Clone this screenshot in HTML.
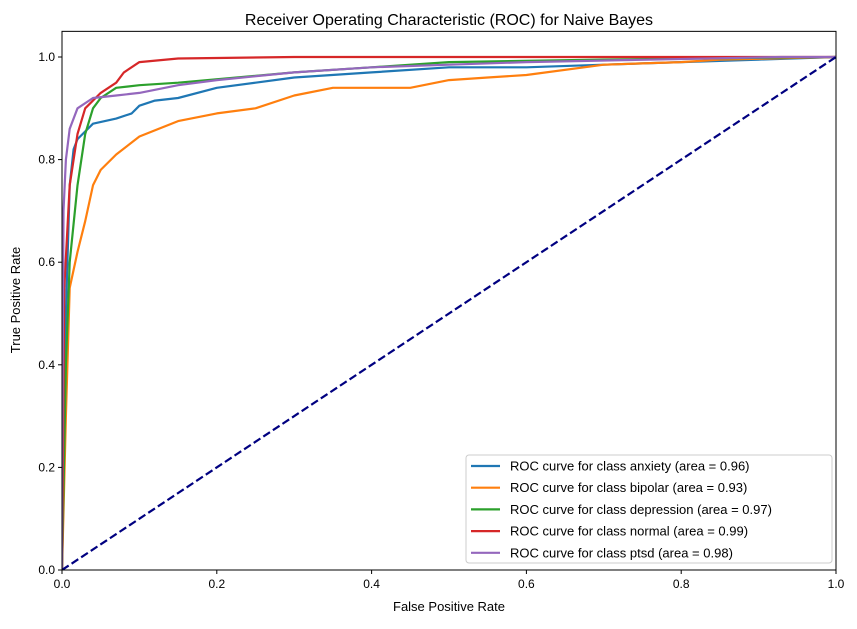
<!DOCTYPE html>
<html><head><meta charset="utf-8"><style>
body{margin:0;background:#fff}
svg{font-family:"Liberation Sans","DejaVu Sans",sans-serif}
</style></head><body>
<svg id="chart" width="857" height="624" viewBox="0 0 857 624">
<text x="449" y="25" text-anchor="middle" font-size="16">Receiver Operating Characteristic (ROC) for Naive Bayes</text>
<g id="ticks"></g>
<g id="series" clip-path="url(#clip)"></g>
<clipPath id="clip"><rect x="62" y="31" width="774" height="539"/></clipPath>
<rect x="62" y="31.35" width="774" height="538.65" fill="none" stroke="#000" stroke-width="1"/>
<text x="449" y="611" text-anchor="middle" font-size="13">False Positive Rate</text>
<text x="20" y="300" text-anchor="middle" font-size="13" transform="rotate(-90 20 300)">True Positive Rate</text>
<g id="legend"></g>
</svg>
<script>
const xTicks=[0,0.2,0.4,0.6,0.8,1.0];
const yTicks=[0,0.2,0.4,0.6,0.8,1.0];
const seriesNames=["anxiety","bipolar","depression","normal","ptsd"];
const seriesAreas=["0.96","0.93","0.97","0.99","0.98"];
const seriesColors=["#1f77b4","#ff7f0e","#2ca02c","#d62728","#9467bd"];
const anxFpr=[0,0.005,0.01,0.015,0.02,0.04,0.07,0.09,0.1,0.12,0.15,0.2,0.25,0.3,0.4,0.5,0.6,0.7,0.8,0.9,1];
const anxTpr=[0,0.5,0.75,0.82,0.84,0.87,0.88,0.89,0.905,0.915,0.92,0.94,0.95,0.96,0.97,0.98,0.98,0.985,0.99,0.995,1];
const bipFpr=[0,0.005,0.01,0.02,0.03,0.04,0.05,0.07,0.1,0.15,0.2,0.25,0.3,0.35,0.45,0.5,0.55,0.6,0.7,0.8,0.85,1];
const bipTpr=[0,0.3,0.55,0.62,0.68,0.75,0.78,0.81,0.845,0.875,0.89,0.9,0.925,0.94,0.94,0.955,0.96,0.965,0.985,0.99,0.995,1];
const depFpr=[0,0.005,0.01,0.02,0.03,0.04,0.05,0.07,0.1,0.15,0.3,0.4,0.5,0.7,1];
const depTpr=[0,0.4,0.6,0.75,0.85,0.9,0.92,0.94,0.945,0.95,0.97,0.98,0.99,0.995,1];
const norFpr=[0,0.003,0.01,0.02,0.03,0.05,0.07,0.08,0.1,0.15,0.3,1];
const norTpr=[0,0.55,0.75,0.85,0.9,0.93,0.95,0.97,0.99,0.997,1,1];
const ptsFpr=[0,0,0.002,0.005,0.01,0.02,0.04,0.07,0.1,0.15,0.2,0.3,0.4,0.5,0.6,0.93,1];
const ptsTpr=[0,0.15,0.7,0.8,0.86,0.9,0.92,0.925,0.93,0.945,0.955,0.97,0.98,0.985,0.99,1,1];
const chanceX=[0,1];
const chanceY=[0,1];

const X0=62,X1=836,Y0=570,YTOP=31.35,YMAX=1.05;
const sx=v=>X0+v*(X1-X0);
const sy=v=>Y0-v/YMAX*(Y0-YTOP);
const NS="http://www.w3.org/2000/svg";
function mk(tag,attrs,parent){const e=document.createElementNS(NS,tag);for(const k in attrs)e.setAttribute(k,attrs[k]);parent.appendChild(e);return e;}
const tg=document.getElementById('ticks');
xTicks.forEach(t=>{
  const l=mk('line',{x1:sx(t),x2:sx(t),y1:Y0,y2:Y0+4,stroke:'#000'},tg);
  
  
  const tx=mk('text',{x:sx(t),y:Y0+18,'text-anchor':'middle','font-size':12},tg);
  tx.textContent=t.toFixed(1);
  
  
});
yTicks.forEach(t=>{
  const l=mk('line',{x1:X0-4,x2:X0,y1:sy(t),y2:sy(t),stroke:'#000'},tg);
  
  
  const tx=mk('text',{x:X0-7,y:sy(t)+4,'text-anchor':'end','font-size':12},tg);
  tx.textContent=t.toFixed(1);
  
  
});
const sg=document.getElementById('series');
const data=[[anxFpr,anxTpr],[bipFpr,bipTpr],[depFpr,depTpr],[norFpr,norTpr],[ptsFpr,ptsTpr]];
data.forEach((d,i)=>{
  const pts=d[0].map((x,j)=>sx(x).toFixed(1)+','+sy(d[1][j]).toFixed(1)).join(' ');
  const p=mk('polyline',{points:pts,fill:'none',stroke:seriesColors[i],'stroke-width':2.2,'stroke-linejoin':'round'},sg);
  
  
});
const ch=mk('polyline',{points:chanceX.map((x,j)=>sx(x)+','+sy(chanceY[j])).join(' '),fill:'none',stroke:'#000080','stroke-width':2.2,'stroke-dasharray':'8,3.5'},sg);


const lg=document.getElementById('legend');
const bg=mk('rect',{x:466,y:455,width:366,height:108,rx:3,fill:'#fff','fill-opacity':0.8,stroke:'#ccc'},lg);


seriesNames.forEach((n,i)=>{
  const y=466+i*21.7;
  const l=mk('line',{x1:471,x2:500,y1:y,y2:y,stroke:seriesColors[i],'stroke-width':2.2},lg);
  
  
  const t=mk('text',{x:510,y:y+4.5,'font-size':13},lg);
  t.textContent='ROC curve for class '+n+' (area = '+seriesAreas[i]+')';
  
  
});
</script>
</body></html>
